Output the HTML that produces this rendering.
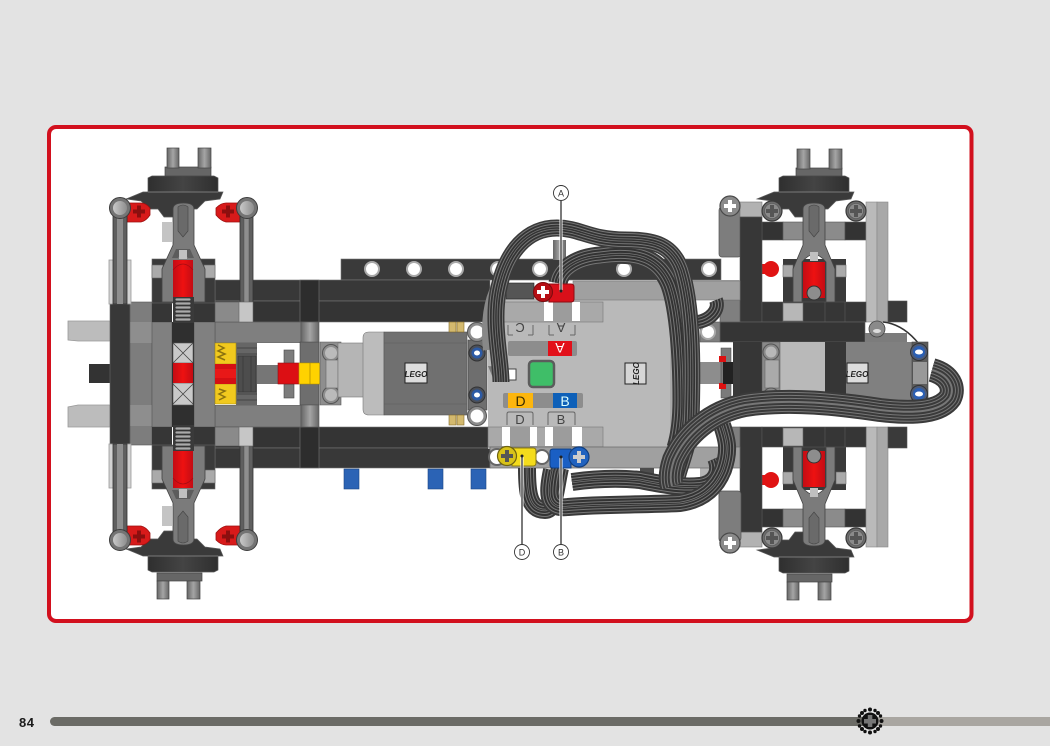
<!DOCTYPE html>
<html><head><meta charset="utf-8"><style>
html,body{margin:0;padding:0;background:#e3e3e3;width:1050px;height:746px;overflow:hidden}
svg{display:block;filter:blur(.35px)}
text{font-family:"Liberation Sans",sans-serif}
</style></head><body>
<svg xmlns="http://www.w3.org/2000/svg" width="1050" height="746" viewBox="0 0 1050 746">
<defs>
<linearGradient id="sh" x1="0" x2="1" y1="0" y2="0"><stop offset="0" stop-color="#2f2f2f"/><stop offset=".5" stop-color="#444"/><stop offset="1" stop-color="#2f2f2f"/></linearGradient>
<linearGradient id="pin" x1="0" x2="1" y1="0" y2="0"><stop offset="0" stop-color="#666"/><stop offset=".5" stop-color="#a5a5a5"/><stop offset="1" stop-color="#666"/></linearGradient>
<linearGradient id="redg" x1="0" x2="1" y1="0" y2="0"><stop offset="0" stop-color="#c30c14"/><stop offset=".5" stop-color="#ee1111"/><stop offset="1" stop-color="#c30c14"/></linearGradient>
<linearGradient id="ball"><stop offset="0" stop-color="#c9c9c9"/><stop offset="1" stop-color="#8d8d8d"/></linearGradient>

<g id="crossW"><rect x="-6" y="-2" width="12" height="4" fill="#fff"/><rect x="-2" y="-6" width="4" height="12" fill="#fff"/></g>
<g id="crossG"><circle r="10" fill="#6c6c6c" stroke="#3a3a3a" stroke-width="1.2"/><circle r="7.5" fill="#8a8a8a" stroke="#555" stroke-width=".6"/><rect x="-6" y="-2" width="12" height="4" fill="#555"/><rect x="-2" y="-6" width="4" height="12" fill="#555"/></g>

<!-- front half -->
<g id="frontHalf">
  <rect x="109" y="260" width="22" height="44" fill="#d2d2d2" stroke="#999" stroke-width=".8"/>
  <rect x="162" y="222" width="10" height="20" fill="#c4c4c4"/>
  <rect x="152" y="259" width="63" height="44" fill="#3a3a3a" stroke="#666" stroke-width=".6"/>
  <rect x="152" y="265" width="11" height="13" fill="#aaa" stroke="#666" stroke-width=".6"/>
  <rect x="204" y="265" width="11" height="13" fill="#aaa" stroke="#666" stroke-width=".6"/>
  <path d="M143 192h80l-3 7-15 2-8 8h-9l-5 8h-19l-6-8h-9l-8-8-15-2z" fill="#3a3a3a" stroke="#5a5a5a" stroke-width=".7"/>
  <path d="M148 178l4-2h62l4 2v14h-70z" fill="url(#sh)" stroke="#555" stroke-width=".7"/>
  <line x1="148" y1="192" x2="218" y2="192" stroke="#888" stroke-width=".8"/>
  <path d="M127 204q-2 0 0-1h14q5 0 9 5v7q-4 6-9 7h-14z" fill="#d81a1a" stroke="#9c1010" stroke-width=".8"/>
  <path d="M240 204v-1h-14q-5 0-10 5v7q5 6 10 7h14z" fill="#d81a1a" stroke="#9c1010" stroke-width=".8"/>
  <g fill="#8c0f0f"><rect x="133" y="209.500" width="12" height="4"/><rect x="137" y="205.500" width="4" height="12"/><rect x="222" y="209.500" width="12" height="4"/><rect x="226" y="205.500" width="4" height="12"/></g>
  <path d="M173 209q0-6 10.500-6t10.500 6v36l11 24v33h-43v-33l11-24z" fill="#7b7b7b" stroke="#444" stroke-width=".8"/>
  <path d="M178 207q5-4 10 0v24l-5 6-5-6z" fill="#6a6a6a" stroke="#444" stroke-width=".6"/>
  <rect x="173" y="260" width="20" height="40" fill="url(#redg)"/>
  <path d="M173 270q10-12 20 0" fill="none" stroke="#a40c12" stroke-width=".8"/>
  <path d="M172 258l4-9h14l4 9h-6l-2-3h-6l-2 3z" fill="#5c5c5c"/><rect x="179" y="250" width="8" height="9" fill="#c0c0c0"/>
  <rect x="173" y="297" width="21" height="26" fill="#3a3a3a"/>
  <g fill="#aaa" stroke="#333" stroke-width=".7"><rect x="175" y="298" width="16" height="3" rx="1.500"/><rect x="175" y="302" width="16" height="3" rx="1.500"/><rect x="175" y="306" width="16" height="3" rx="1.500"/><rect x="175" y="310" width="16" height="3" rx="1.500"/><rect x="175" y="314" width="16" height="3" rx="1.500"/><rect x="175" y="318" width="16" height="3" rx="1.500"/></g>
  <rect x="113" y="216" width="14" height="88" fill="#5f5f5f" stroke="#333" stroke-width=".8"/>
  <rect x="117" y="216" width="6" height="88" fill="#8e8e8e"/>
  <rect x="240" y="216" width="13" height="90" fill="#5f5f5f" stroke="#333" stroke-width=".8"/>
  <rect x="244" y="216" width="5" height="90" fill="#8e8e8e" stroke="#444" stroke-width=".4"/>
  <circle cx="120" cy="208" r="10.500" fill="#747474" stroke="#3c3c3c"/><circle cx="120" cy="208" r="7" fill="url(#ball)"/>
  <circle cx="247" cy="208" r="10.500" fill="#747474" stroke="#3c3c3c"/><circle cx="247" cy="208" r="7" fill="url(#ball)"/>
</g>

<!-- rear half -->
<g id="rearHalf">
  <rect x="719" y="207" width="22" height="50" rx="3" fill="#7d7d7d" stroke="#555" stroke-width=".7"/>
  <rect x="783" y="259" width="63" height="44" fill="#3a3a3a"/>
  <rect x="762" y="222" width="21" height="18" fill="#333" stroke="#555" stroke-width=".6"/>
  <rect x="783" y="222" width="62" height="18" fill="#8b8b8b" stroke="#555" stroke-width=".6"/>
  <rect x="845" y="222" width="21" height="18" fill="#333" stroke="#555" stroke-width=".6"/>
  <path d="M774 192h80l-3 7-15 2-8 8h-9l-5 8h-19l-6-8h-9l-8-8-15-2z" fill="#3a3a3a" stroke="#5a5a5a" stroke-width=".7"/>
  <path d="M779 178l4-2h62l4 2v14h-70z" fill="url(#sh)" stroke="#555" stroke-width=".7"/>
  <line x1="779" y1="192" x2="849" y2="192" stroke="#888" stroke-width=".8"/>
  <circle cx="771" cy="269" r="8" fill="#e01313"/><rect x="762" y="264" width="6" height="10" fill="#e01313"/>
  <rect x="783" y="265" width="10" height="12" fill="#aaa" stroke="#666" stroke-width=".6"/>
  <rect x="836" y="265" width="10" height="12" fill="#aaa" stroke="#666" stroke-width=".6"/>
  <rect x="803" y="262" width="22" height="36" fill="url(#redg)"/>
  <path d="M803 209q0-6 11-6t11 6v36l10 24v33h-9v-40q-12-15-24 0v40h-9v-33l10-24z" fill="#7b7b7b" stroke="#444" stroke-width=".8"/>
  <path d="M809 207q5-4 10 0v24l-5 6-5-6z" fill="#6a6a6a" stroke="#444" stroke-width=".6"/>
  <rect x="810" y="252" width="8" height="9" fill="#c0c0c0"/>
  <circle cx="814" cy="293" r="7" fill="#8d8d8d" stroke="#333"/>
  <rect x="740" y="202" width="22" height="15" fill="#b2b2b2" stroke="#777" stroke-width=".6"/>
  <rect x="740" y="217" width="22" height="105" fill="#373737" stroke="#555" stroke-width=".6"/>
  <rect x="866" y="202" width="11" height="120" fill="#bababa" stroke="#888" stroke-width=".6"/>
  <rect x="877" y="202" width="11" height="120" fill="#a8a8a8" stroke="#888" stroke-width=".6"/>
  <use href="#crossG" x="772" y="211"/>
  <use href="#crossG" x="856" y="211"/>
  <circle cx="730" cy="206" r="10" fill="#8a8a8a" stroke="#4a4a4a" stroke-width="1.200"/>
  <use href="#crossW" x="730" y="206"/>
  <rect x="762" y="302" width="104" height="20" fill="#363636" stroke="#555" stroke-width=".6"/>
  <g stroke="#5c5c5c" stroke-width=".6"><line x1="783" y1="302" x2="783" y2="322"/><line x1="825" y1="302" x2="825" y2="322"/><line x1="845" y1="302" x2="845" y2="322"/></g>
  <rect x="783" y="303" width="20" height="18" fill="#b7b7b7" stroke="#666" stroke-width=".6"/>
  <rect x="888" y="301" width="19" height="21" fill="#3a3a3a" stroke="#555" stroke-width=".6"/>
</g>

<path id="r1" d="M501 382C501 360 492 325 498 292C506 250 528 228 557 228C580 228 590 240 625 240C655 240 672 245 681 270C692 305 693 360 691 420C689 445 680 465 677 478"/>
<path id="r2" d="M558 283C560 270 575 258 600 256C640 250 660 260 670 285C679 310 682 360 682 400C682 420 680 435 676 448"/>
<path id="r3" d="M527 468C527 490 528 510 545 510C555 510 555 490 560 468"/>
<path id="r4" d="M552 470C548 490 545 510 568 507C600 504 640 505 680 503C700 500 715 490 723 470C730 450 727 440 722 425"/>
<path id="r5" d="M572 482C600 478 620 478 640 480C660 484 680 488 700 486C715 484 722 472 716 458"/>
<path id="r6" d="M932 370C950 375 955 388 950 398C940 412 915 414 880 410C840 404 790 398 745 405C710 412 685 435 674 460C670 472 670 480 672 486"/>
<path id="r7" d="M698 322C710 320 720 310 716 300"/>
</defs>

<rect x="0" y="0" width="1050" height="746" fill="#e3e3e3"/>
<rect x="49" y="127" width="922.500" height="494" rx="7" fill="#fff" stroke="#d2101e" stroke-width="4"/>

<!-- tabs and stub, front -->
<g stroke="#999" stroke-width=".8">
  <path d="M68 321h42v20H78l-10-1z" fill="#bcbcbc"/>
  <path d="M68 427h42v-22H78l-10 2z" fill="#bcbcbc"/>
</g>
<rect x="89" y="364" width="21" height="19" fill="#333"/>

<!-- beam with holes -->
<rect x="341" y="259" width="380" height="21" fill="#3a3a3a" stroke="#777" stroke-width=".6"/>
<!-- long black beams -->
<g stroke="#777" stroke-width=".6">
  <rect x="215" y="280" width="275" height="21" fill="#383838"/>
  <rect x="215" y="301" width="275" height="21" fill="#343434"/>
  <rect x="215" y="427" width="275" height="21" fill="#343434"/>
  <rect x="215" y="448" width="275" height="20" fill="#383838"/>
  <rect x="300" y="280" width="19" height="42" fill="#2d2d2d"/>
  <rect x="300" y="427" width="19" height="41" fill="#2d2d2d"/>
</g>
<!-- blue pegs -->
<g fill="#2b63b5" stroke="#1b4585" stroke-width=".6">
  <rect x="344" y="469" width="15" height="20"/><rect x="428" y="469" width="15" height="20"/><rect x="471" y="469" width="15" height="20"/>
</g>
<!-- front frame -->
<rect x="215" y="322" width="86" height="21" fill="#7f7f7f" stroke="#555" stroke-width=".6"/>
<rect x="215" y="405" width="86" height="22" fill="#7f7f7f" stroke="#555" stroke-width=".6"/>
<rect x="130" y="302" width="22" height="143" fill="#7d7d7d" stroke="#555" stroke-width=".6"/>
<rect x="130" y="322" width="22" height="21" fill="#8e8e8e"/>
<rect x="130" y="405" width="22" height="21" fill="#8e8e8e"/>
<rect x="110" y="302" width="20" height="143" fill="#383838" stroke="#666" stroke-width=".6"/>
<rect x="152" y="322" width="20" height="105" fill="#808080" stroke="#555" stroke-width=".6"/>
<rect x="194" y="322" width="21" height="105" fill="#808080" stroke="#555" stroke-width=".6"/>
<rect x="152" y="302" width="20" height="20" fill="#363636"/><rect x="194" y="302" width="21" height="20" fill="#363636"/>
<rect x="152" y="427" width="20" height="19" fill="#363636"/><rect x="194" y="427" width="21" height="19" fill="#363636"/>
<rect x="215" y="302" width="33" height="20" fill="#8a8a8a" stroke="#555" stroke-width=".6"/>
<rect x="215" y="427" width="33" height="19" fill="#8a8a8a" stroke="#555" stroke-width=".6"/>
<rect x="172" y="322" width="22" height="105" fill="#2f2f2f"/>
<g>
  <rect x="173" y="343" width="20" height="20" fill="#c9c9c9" stroke="#555" stroke-width=".6"/><path d="M173 343l20 20M193 343l-20 20" stroke="#444" stroke-width=".8"/>
  <rect x="173" y="383" width="20" height="22" fill="#c9c9c9" stroke="#555" stroke-width=".6"/><path d="M173 384l20 20M193 384l-20 20" stroke="#444" stroke-width=".8"/>
  <rect x="173" y="363" width="20" height="20" fill="url(#redg)"/>
</g>
<!-- differential -->
<rect x="215" y="343" width="105" height="62" fill="#fff"/>
<rect x="236" y="343" width="21" height="62" fill="#666"/>
<g stroke="#3a3a3a" fill="none" stroke-width=".8"><path d="M237 348h20M237 354h20M237 394h20M237 400h20"/><rect x="238" y="356" width="18" height="36" fill="#4d4d4d"/><path d="M243 356v36M251 356v36"/></g>
<path d="M215 343h21v21h-21z" fill="#f1c91e" stroke="#a58a10" stroke-width=".6"/>
<path d="M215 384h21v20h-21z" fill="#f1c91e" stroke="#a58a10" stroke-width=".6"/>
<path d="M218 345l6 3-6 3 7 3-7 3 7 3M219 389l6 2-6 3 6 3-6 3" fill="none" stroke="#8a7210" stroke-width="1.500"/>
<rect x="215" y="364" width="21" height="20" fill="#d40f14"/><rect x="215" y="369" width="21" height="9" fill="#e81818"/>
<rect x="257" y="365" width="22" height="19" fill="#767676"/>
<g fill="#7c7c7c" stroke="#4a4a4a" stroke-width=".6"><rect x="284" y="350" width="10" height="14"/><rect x="284" y="384" width="10" height="14"/></g>
<rect x="278" y="363" width="21" height="21" fill="#dc0f14" stroke="#8c1014" stroke-width=".6"/>
<rect x="300" y="342" width="19" height="21" fill="#6e6e6e" stroke="#444" stroke-width=".6"/>
<rect x="300" y="384" width="19" height="21" fill="#6e6e6e" stroke="#444" stroke-width=".6"/>
<rect x="301" y="322" width="18" height="20" fill="url(#pin)" stroke="#555" stroke-width=".6"/>
<rect x="301" y="405" width="18" height="22" fill="url(#pin)" stroke="#555" stroke-width=".6"/>
<rect x="299" y="363" width="21" height="21" fill="#ffd200" stroke="#c49f00" stroke-width=".6"/><line x1="310" y1="363" x2="310" y2="384" stroke="#b08c00" stroke-width=".8"/>
<path d="M320 342h21v63h-21z" fill="#8e8e8e" stroke="#555" stroke-width=".6"/>
<circle cx="331" cy="353" r="8.500" fill="#8e8e8e" stroke="#555"/><circle cx="331" cy="353" r="6" fill="#bbb"/>
<circle cx="331" cy="395" r="8.500" fill="#8e8e8e" stroke="#555"/><circle cx="331" cy="395" r="6" fill="#bbb"/>
<rect x="326" y="360" width="12" height="28" fill="#b4b4b4" stroke="#666" stroke-width=".6"/>

<!-- front motor -->
<rect x="338" y="343" width="30" height="54" fill="#b5b5b5" stroke="#777" stroke-width=".6"/>
<path d="M363 338q0-6 6-6h15v83h-15q-6 0-6-6z" fill="#bcbcbc" stroke="#777" stroke-width=".6"/>
<rect x="384" y="332" width="83" height="83" fill="#707070" stroke="#555" stroke-width=".6"/>
<path d="M384 343h83M384 404h83" stroke="#5c5c5c" stroke-width=".6"/>
<rect x="405" y="363" width="22" height="20" fill="#ddd" stroke="#222"/>
<text x="416" y="377" font-size="8" font-style="italic" font-weight="bold" text-anchor="middle" fill="#222">LEGO</text>
<g fill="#d3b96e" stroke="#826a2a" stroke-width=".6"><rect x="449" y="322" width="7" height="10"/><rect x="457" y="322" width="7" height="10"/><rect x="449" y="415" width="7" height="10"/><rect x="457" y="415" width="7" height="10"/></g>
<rect x="468" y="340" width="19" height="70" fill="#6e6e6e" stroke="#444" stroke-width=".6"/>
<circle cx="477" cy="332" r="9.500" fill="#8c8c8c" stroke="#555"/><circle cx="477" cy="332" r="6.500" fill="#fff"/>
<circle cx="477" cy="416" r="9.500" fill="#8c8c8c" stroke="#555"/><circle cx="477" cy="416" r="6.500" fill="#fff"/>
<circle cx="477" cy="353" r="8" fill="#4a4f59" stroke="#333"/><circle cx="477" cy="353" r="5.500" fill="#2c5aa5"/><ellipse cx="477" cy="353" rx="3" ry="2.500" fill="#fff"/>
<circle cx="477" cy="395" r="8" fill="#4a4f59" stroke="#333"/><circle cx="477" cy="395" r="5.500" fill="#2c5aa5"/><ellipse cx="477" cy="395" rx="3" ry="2.500" fill="#fff"/>

<!-- rear mirrored frames -->
<use href="#rearHalf"/>
<use href="#rearHalf" transform="matrix(1 0 0 -1 0 749)"/>
<!-- rear pins -->
<g stroke="#444" stroke-width=".7">
  <rect x="796" y="168" width="46" height="8" fill="#666"/>
  <rect x="797" y="149" width="13" height="20" fill="url(#pin)"/><rect x="829" y="149" width="13" height="20" fill="url(#pin)"/>
  <rect x="787" y="574" width="45" height="8" fill="#666"/>
  <rect x="787" y="582" width="12" height="18" fill="url(#pin)"/><rect x="818" y="582" width="13" height="18" fill="url(#pin)"/>
</g>

<!-- front mirrored halves -->
<use href="#frontHalf"/>
<use href="#frontHalf" transform="matrix(1 0 0 -1 0 748)"/>
<g stroke="#444" stroke-width=".7">
  <rect x="165" y="167" width="46" height="9" fill="#666"/>
  <rect x="167" y="148" width="12" height="20" fill="url(#pin)"/><rect x="198" y="148" width="13" height="20" fill="url(#pin)"/>
  <rect x="157" y="573" width="45" height="8" fill="#666"/>
  <rect x="157" y="581" width="12" height="18" fill="url(#pin)"/><rect x="187" y="581" width="13" height="18" fill="url(#pin)"/>
</g>
<rect x="248" y="302" width="14" height="20" fill="#c6c6c6" stroke="#666" stroke-width=".6" transform="translate(-9 0)"/>
<rect x="248" y="427" width="14" height="19" fill="#c6c6c6" stroke="#666" stroke-width=".6" transform="translate(-9 0)"/>

<!-- rear cross beams -->
<rect x="680" y="280" width="60" height="20" fill="#a3a3a3"/>
<rect x="720" y="300" width="20" height="22" fill="#7f7f7f" stroke="#555" stroke-width=".6"/>
<rect x="700" y="322" width="20" height="20" fill="#7f7f7f" stroke="#555" stroke-width=".6"/>
<rect x="720" y="322" width="145" height="20" fill="#353535" stroke="#666" stroke-width=".6"/>
<rect x="865" y="333" width="42" height="9" fill="#7c7c7c"/>
<circle cx="877" cy="329" r="8" fill="#8a8a8a" stroke="#444" stroke-width=".8"/><ellipse cx="877" cy="331" rx="4" ry="2" fill="#ddd"/>
<path d="M883 322q20 2 36 22" fill="none" stroke="#333" stroke-width="1.500"/>

<!-- rear motor -->
<rect x="733" y="342" width="7" height="55" fill="#3a3a3a"/>
<rect x="700" y="362" width="33" height="22" fill="#8d8d8d"/>
<rect x="721" y="348" width="10" height="50" fill="#7b7b7b" stroke="#444" stroke-width=".5"/>
<rect x="719" y="356" width="7" height="6" fill="#d11"/><rect x="719" y="383" width="7" height="6" fill="#d11"/>
<rect x="723" y="362" width="10" height="22" fill="#222"/>
<rect x="740" y="342" width="22" height="70" fill="#363636"/>
<rect x="762" y="342" width="63" height="70" fill="#b9b9b9"/>
<rect x="762" y="342" width="18" height="70" fill="#898989" stroke="#555" stroke-width=".5"/>
<circle cx="771" cy="352" r="8" fill="#8a8a8a" stroke="#555"/><circle cx="771" cy="352" r="5.500" fill="#b8b8b8"/>
<rect x="765" y="360" width="14" height="28" fill="#aaa" stroke="#666" stroke-width=".6"/>
<circle cx="771" cy="396" r="8" fill="#8a8a8a" stroke="#555"/>
<rect x="825" y="342" width="21" height="70" fill="#363636"/>
<rect x="846" y="342" width="66" height="70" fill="#808080"/>
<rect x="847" y="363" width="21" height="20" fill="#ddd" stroke="#222"/>
<text x="857" y="377" font-size="8" font-style="italic" font-weight="bold" text-anchor="middle" fill="#222">LEGO</text>
<rect x="912" y="342" width="16" height="65" fill="#5c5c5c" stroke="#444" stroke-width=".6"/>
<rect x="913" y="362" width="14" height="22" fill="#999"/>
<circle cx="919" cy="352" r="8.500" fill="#4d5b77" stroke="#333"/><circle cx="919" cy="352" r="6" fill="#2b5fb3"/><ellipse cx="919" cy="352" rx="4" ry="2.500" fill="#fff"/>
<circle cx="919" cy="394" r="8.500" fill="#4d5b77" stroke="#333"/><circle cx="919" cy="394" r="6" fill="#2b5fb3"/><ellipse cx="919" cy="394" rx="4" ry="2.500" fill="#fff"/>
<rect x="720" y="427" width="20" height="22" fill="#7f7f7f" stroke="#555" stroke-width=".6"/>
<rect x="680" y="448" width="60" height="20" fill="#a3a3a3"/>
<rect x="700" y="468" width="18" height="17" fill="#b5b5b5"/>

<!-- holes in top beam -->
<g fill="#fff" stroke="#a9a9a9" stroke-width="2">
  <circle cx="372" cy="269" r="7"/><circle cx="414" cy="269" r="7"/><circle cx="456" cy="269" r="7"/><circle cx="498" cy="269" r="7"/><circle cx="540" cy="269" r="7"/><circle cx="624" cy="269" r="7"/><circle cx="709" cy="269" r="7"/>
</g>
<circle cx="708" cy="332" r="7" fill="#fff" stroke="#a9a9a9" stroke-width="2"/>
<rect x="553" y="240" width="13" height="20" fill="url(#pin)"/>

<!-- hub -->
<rect x="488" y="299" width="189" height="150" fill="#b9b9b9"/>
<rect x="670" y="300" width="7" height="148" fill="#a8a8a8"/>
<rect x="488" y="302" width="115" height="20" fill="#a9a9a9" stroke="#777" stroke-width=".6"/>
<rect x="488" y="427" width="115" height="20" fill="#a9a9a9" stroke="#777" stroke-width=".6"/>
<rect x="573" y="281" width="167" height="19" fill="#a0a0a0" stroke="#777" stroke-width=".6"/>
<rect x="490" y="447" width="250" height="21" fill="#a0a0a0" stroke="#666" stroke-width=".7"/>
<rect x="506" y="283" width="28" height="16" fill="#555" stroke="#222" stroke-width=".6"/>
<g fill="#fff"><rect x="544" y="302" width="36" height="19"/><rect x="502" y="427" width="35" height="19"/><rect x="545" y="427" width="37" height="19"/></g>
<g fill="#9c9c9c"><rect x="553" y="302" width="19" height="19"/><rect x="510" y="427" width="20" height="19"/><rect x="553" y="427" width="19" height="19"/></g>
<!-- ports -->
<g fill="none" stroke="#666" stroke-width="1"><path d="M508 335v-10M533 335v-10M549 335v-10M575 335v-10M508 335h5M533 335h-5M549 335h5M575 335h-5"/><path d="M507 425v-11q0-2 2-2h22q2 0 2 2v11M548 425v-11q0-2 2-2h23q2 0 2 2v11"/></g>
<text x="520" y="333" font-size="13" text-anchor="middle" fill="#444" transform="rotate(180 520 328)">C</text>
<text x="561" y="333" font-size="13" text-anchor="middle" fill="#444" transform="rotate(180 561 328)">A</text>
<text x="520" y="424" font-size="13" text-anchor="middle" fill="#444">D</text>
<text x="561" y="424" font-size="13" text-anchor="middle" fill="#444">B</text>
<!-- label bars -->
<rect x="508" y="341" width="69" height="15" rx="2" fill="#8d8d8d"/>
<rect x="548" y="341" width="24" height="15" fill="#e2101a"/>
<text x="560" y="354" font-size="14" text-anchor="middle" fill="#fff" transform="rotate(180 560 348.500)">A</text>
<rect x="503" y="393" width="80" height="15" rx="2" fill="#8d8d8d"/>
<rect x="508" y="393" width="25" height="15" fill="#fdb60d"/>
<rect x="553" y="393" width="24" height="15" fill="#0e60b8"/>
<text x="520.500" y="406" font-size="14" text-anchor="middle" fill="#3a2c00">D</text>
<text x="565" y="406" font-size="14" text-anchor="middle" fill="#dff">B</text>
<!-- button -->
<rect x="529" y="361" width="25" height="26" rx="4" fill="#3fbe68" stroke="#5c5c5c" stroke-width="2.500"/>
<rect x="625" y="363" width="21" height="21" fill="#d6d6d6" stroke="#222"/>
<text x="635.500" y="377" font-size="8" font-style="italic" font-weight="bold" text-anchor="middle" fill="#222" transform="rotate(-90 635.500 373.500)">LEGO</text>
<rect x="500" y="369" width="16" height="11" fill="#fff" stroke="#444"/>
<path d="M488 366l5 12 8 4v-15z" fill="#777"/>
<rect x="640" y="468" width="14" height="8" fill="#4d4d4d"/>

<!-- ribbons -->
<path d="M497 285C486 305 486 330 488 350" fill="none" stroke="#888" stroke-width="10"/>
<g fill="none" stroke-linecap="butt" stroke-linejoin="round">
  <use href="#r7" stroke="#3a3a3a" stroke-width="14"/><use href="#r7" stroke="#777" stroke-width="10"/><use href="#r7" stroke="#333" stroke-width="8"/><use href="#r7" stroke="#777" stroke-width="4"/><use href="#r7" stroke="#333" stroke-width="2"/>
  <use href="#r2" stroke="#3a3a3a" stroke-width="19"/><use href="#r2" stroke="#777" stroke-width="15"/><use href="#r2" stroke="#333" stroke-width="13"/><use href="#r2" stroke="#777" stroke-width="9"/><use href="#r2" stroke="#333" stroke-width="7"/><use href="#r2" stroke="#777" stroke-width="3"/><use href="#r2" stroke="#333" stroke-width="1.500"/>
  <use href="#r1" stroke="#3a3a3a" stroke-width="17"/><use href="#r1" stroke="#777" stroke-width="14"/><use href="#r1" stroke="#333" stroke-width="12"/><use href="#r1" stroke="#777" stroke-width="8.500"/><use href="#r1" stroke="#333" stroke-width="6.500"/><use href="#r1" stroke="#777" stroke-width="3"/><use href="#r1" stroke="#333" stroke-width="1.500"/>
  <use href="#r5" stroke="#3a3a3a" stroke-width="18"/><use href="#r5" stroke="#777" stroke-width="14"/><use href="#r5" stroke="#333" stroke-width="12"/><use href="#r5" stroke="#777" stroke-width="8"/><use href="#r5" stroke="#333" stroke-width="6"/><use href="#r5" stroke="#777" stroke-width="2.500"/><use href="#r5" stroke="#333" stroke-width="1"/>
  <use href="#r3" stroke="#3a3a3a" stroke-width="18"/><use href="#r3" stroke="#777" stroke-width="14"/><use href="#r3" stroke="#333" stroke-width="12"/><use href="#r3" stroke="#777" stroke-width="8"/><use href="#r3" stroke="#333" stroke-width="6"/><use href="#r3" stroke="#777" stroke-width="2.500"/><use href="#r3" stroke="#333" stroke-width="1"/>
  <use href="#r4" stroke="#3a3a3a" stroke-width="18"/><use href="#r4" stroke="#777" stroke-width="14"/><use href="#r4" stroke="#333" stroke-width="12"/><use href="#r4" stroke="#777" stroke-width="8"/><use href="#r4" stroke="#333" stroke-width="6"/><use href="#r4" stroke="#777" stroke-width="2.500"/><use href="#r4" stroke="#333" stroke-width="1"/>
  <use href="#r6" stroke="#3a3a3a" stroke-width="24"/><use href="#r6" stroke="#777" stroke-width="20"/><use href="#r6" stroke="#3a3a3a" stroke-width="18"/><use href="#r6" stroke="#777" stroke-width="14"/><use href="#r6" stroke="#3a3a3a" stroke-width="12"/><use href="#r6" stroke="#777" stroke-width="8"/><use href="#r6" stroke="#3a3a3a" stroke-width="6"/><use href="#r6" stroke="#777" stroke-width="2"/>
</g>
<!-- rear lower grey block sits above ribbons -->
<rect x="719" y="491" width="22" height="50" rx="3" fill="#7d7d7d" stroke="#555" stroke-width=".7"/>
<circle cx="730" cy="543" r="10" fill="#8a8a8a" stroke="#4a4a4a" stroke-width="1.200"/>
<use href="#crossW" x="730" y="543"/>

<!-- connectors -->
<g>
  <path d="M549 284h22q3 0 3 3v12q0 3-3 3h-22z" fill="#d9101a" stroke="#8e0c12"/>
  <circle cx="543" cy="292" r="9.500" fill="#b60e14" stroke="#7b0a0e"/>
  <use href="#crossW" x="543" y="292"/>
  <circle cx="497" cy="457" r="8" fill="#fff" stroke="#666" stroke-width="2"/>
  <circle cx="542" cy="457" r="7" fill="#fff" stroke="#666" stroke-width="2"/>
  <path d="M512 448h21q3 0 3 3v12q0 3-3 3h-21z" fill="#f4dc1c" stroke="#8c7b10"/>
  <circle cx="507" cy="456" r="9.500" fill="#d8c21a" stroke="#6d6210" stroke-width="1.200"/>
  <rect x="501" y="454" width="12" height="4" fill="#555"/><rect x="505" y="450" width="4" height="12" fill="#555"/>
  <path d="M553 449h18v19h-18q-3 0-3-3v-13q0-3 3-3z" fill="#1a5fc4" stroke="#123f80"/>
  <circle cx="579" cy="457" r="10" fill="#2062bf" stroke="#123f80" stroke-width="1.200"/>
  <rect x="573" y="455" width="12" height="4" fill="#ccc"/><rect x="577" y="451" width="4" height="12" fill="#ccc"/>
</g>

<!-- callouts -->
<g fill="none">
  <path d="M561 201V292" stroke="#fff" stroke-width="3"/><path d="M561 201V292" stroke="#222" stroke-width="1.200"/>
  <path d="M522 456V544" stroke="#fff" stroke-width="3"/><path d="M522 456V544" stroke="#222" stroke-width="1.200"/>
  <path d="M561 457V544" stroke="#fff" stroke-width="3"/><path d="M561 457V544" stroke="#222" stroke-width="1.200"/>
</g>
<g fill="#fff" stroke="#333" stroke-width=".9"><circle cx="561" cy="193" r="7.500"/><circle cx="522" cy="552" r="7.500"/><circle cx="561" cy="552" r="7.500"/></g>
<g fill="#333" font-size="9" text-anchor="middle"><text x="561" y="196.500">A</text><text x="522" y="555.500">D</text><text x="561" y="555.500">B</text></g>
<circle cx="561" cy="291" r="1.500" fill="#222"/><circle cx="522" cy="456" r="1.500" fill="#222"/><circle cx="561" cy="457" r="1.500" fill="#222"/>

<!-- footer -->
<rect x="50" y="717" width="830" height="9" rx="4.500" fill="#6b6b66"/>
<rect x="870" y="717" width="180" height="9" fill="#a9a6a1"/>
<text x="19" y="727" font-size="13" font-weight="bold" fill="#1a1a1a" letter-spacing=".5">84</text>
<g fill="#111">
  <circle cx="870" cy="721" r="8.500"/>
  <g id="rays"><circle cx="870" cy="709.500" r="2"/><circle cx="870" cy="732.500" r="2"/><circle cx="858.500" cy="721" r="2"/><circle cx="881.500" cy="721" r="2"/><circle cx="862" cy="713" r="2"/><circle cx="878" cy="713" r="2"/><circle cx="862" cy="729" r="2"/><circle cx="878" cy="729" r="2"/><circle cx="865" cy="710.500" r="1.700"/><circle cx="875" cy="710.500" r="1.700"/><circle cx="865" cy="731.500" r="1.700"/><circle cx="875" cy="731.500" r="1.700"/><circle cx="859.500" cy="716" r="1.700"/><circle cx="880.500" cy="716" r="1.700"/><circle cx="859.500" cy="726" r="1.700"/><circle cx="880.500" cy="726" r="1.700"/></g>
</g>
<rect x="864" y="719" width="12" height="4.500" fill="#777"/><rect x="867.800" y="715" width="4.500" height="12" fill="#777"/>
</svg>
</body></html>
